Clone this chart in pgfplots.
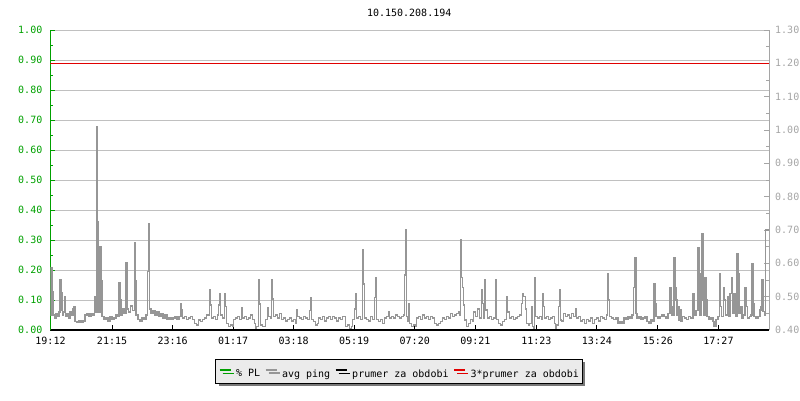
\documentclass[border=0pt]{standalone}
\usepackage{fontspec}
\setmainfont{DejaVu Sans Mono}
\usepackage{pgfplots}
\pgfplotsset{compat=1.18}
\usepackage{pgfplotstable}
\usetikzlibrary{shadows}

\definecolor{pgreen}{RGB}{0,160,0}
\definecolor{datagray}{RGB}{150,150,150}
\definecolor{gridgray}{RGB}{192,192,192}
\definecolor{axisgray}{RGB}{165,165,165}
\definecolor{pred}{RGB}{225,0,0}
\definecolor{legfill}{RGB}{235,235,235}
\definecolor{shadowgray}{RGB}{120,120,120}

\pgfplotstableread{
x y
0 0.445
1 0.587
3 0.515
5 0.445
8 0.436
11 0.449
14 0.440
17 0.454
19 0.550
21 0.460
22 0.511
24 0.445
26 0.454
28 0.499
30 0.440
33 0.449
36 0.436
39 0.454
42 0.445
45 0.463
47 0.469
49 0.425
53 0.422
57 0.427
61 0.422
65 0.427
69 0.445
73 0.449
77 0.440
81 0.449
85 0.445
88 0.499
90 0.454
93 1.009
94 0.725
96 0.454
99 0.650
101 0.547
103 0.440
107 0.431
111 0.436
115 0.427
119 0.440
123 0.431
127 0.436
131 0.445
134 0.440
137 0.541
139 0.490
141 0.445
144 0.463
147 0.449
151 0.602
153 0.463
156 0.454
160 0.472
164 0.458
168 0.662
169 0.547
171 0.445
175 0.431
179 0.427
183 0.436
187 0.431
191 0.445
194 0.575
196 0.720
198 0.463
201 0.449
205 0.458
209 0.445
213 0.454
217 0.440
221 0.449
225 0.436
229 0.445
233 0.431
237 0.436
241 0.431
245 0.436
249 0.440
253 0.431
257 0.440
261 0.480
262 0.460
264 0.436
268 0.440
272 0.431
276 0.436
280 0.440
284 0.431
288 0.420
292 0.415
296 0.430
300 0.425
304 0.431
308 0.436
312 0.445
318 0.520
319 0.475
321 0.436
325 0.440
329 0.431
333 0.445
336 0.475
338 0.510
340 0.445
344 0.436
348 0.510
349 0.470
351 0.420
355 0.410
359 0.415
363 0.410
366 0.431
370 0.436
374 0.440
378 0.431
382 0.468
384 0.436
388 0.440
392 0.431
396 0.436
400 0.445
403 0.431
407 0.420
409 0.405
412 0.410
416 0.550
418 0.478
420 0.415
424 0.410
429 0.431
433 0.468
435 0.440
439 0.436
442 0.550
443 0.493
445 0.440
449 0.445
453 0.436
457 0.449
459 0.450
461 0.431
465 0.436
469 0.427
473 0.431
477 0.436
481 0.427
485 0.431
489 0.420
492 0.460
494 0.440
498 0.436
502 0.431
506 0.440
510 0.436
514 0.431
517 0.458
520 0.498
522 0.431
526 0.425
529 0.415
533 0.420
536 0.436
540 0.431
544 0.440
548 0.427
552 0.436
556 0.440
560 0.431
564 0.440
568 0.436
572 0.427
576 0.436
580 0.431
584 0.440
589 0.410
593 0.415
597 0.405
601 0.410
604 0.431
608 0.463
610 0.510
612 0.436
616 0.440
620 0.431
624 0.640
626 0.538
628 0.436
632 0.431
636 0.427
640 0.440
644 0.431
648 0.498
649 0.558
651 0.431
655 0.425
659 0.431
663 0.420
667 0.436
671 0.440
676 0.454
678 0.436
682 0.440
686 0.436
690 0.445
694 0.440
698 0.436
702 0.440
706 0.445
708 0.565
710 0.700
712 0.440
714 0.425
716 0.480
718 0.420
721 0.410
725 0.415
729 0.410
732 0.436
736 0.440
740 0.431
744 0.445
748 0.436
752 0.440
756 0.431
760 0.440
764 0.436
768 0.420
772 0.415
776 0.420
780 0.425
783 0.436
787 0.431
791 0.440
795 0.436
799 0.449
803 0.440
807 0.445
811 0.449
815 0.454
818 0.445
820 0.670
822 0.558
824 0.528
826 0.475
828 0.430
832 0.410
836 0.420
840 0.431
844 0.427
846 0.454
850 0.440
854 0.463
858 0.436
862 0.520
864 0.480
866 0.436
868 0.550
870 0.460
874 0.436
878 0.440
882 0.431
886 0.436
890 0.550
892 0.431
896 0.420
900 0.415
904 0.425
908 0.431
912 0.500
914 0.454
918 0.436
922 0.440
926 0.431
930 0.436
934 0.440
938 0.445
941 0.480
944 0.510
946 0.500
949 0.463
951 0.420
955 0.415
958 0.420
961 0.470
963 0.430
964 0.410
966 0.405
967 0.482
968 0.558
970 0.440
974 0.436
978 0.440
982 0.431
984 0.510
986 0.470
988 0.436
992 0.440
996 0.431
1000 0.436
1004 0.440
1007 0.420
1009 0.405
1011 0.415
1015 0.470
1018 0.520
1019 0.430
1022 0.427
1026 0.449
1030 0.440
1034 0.445
1038 0.436
1042 0.449
1046 0.440
1050 0.463
1052 0.436
1056 0.440
1060 0.427
1064 0.431
1068 0.420
1072 0.431
1076 0.427
1080 0.436
1084 0.420
1088 0.431
1092 0.436
1096 0.427
1100 0.440
1104 0.436
1108 0.431
1112 0.445
1114 0.570
1116 0.490
1118 0.440
1122 0.436
1126 0.431
1130 0.436
1134 0.420
1138 0.425
1142 0.420
1146 0.436
1150 0.431
1154 0.440
1158 0.436
1162 0.445
1165 0.528
1168 0.618
1170 0.449
1172 0.436
1176 0.440
1180 0.431
1184 0.436
1188 0.440
1192 0.425
1196 0.420
1200 0.431
1204 0.427
1206 0.540
1208 0.480
1210 0.440
1214 0.436
1218 0.440
1222 0.445
1226 0.440
1230 0.436
1234 0.449
1238 0.528
1240 0.470
1242 0.445
1246 0.618
1248 0.528
1250 0.490
1252 0.445
1254 0.470
1256 0.430
1258 0.460
1260 0.425
1263 0.440
1267 0.436
1271 0.431
1275 0.440
1279 0.436
1284 0.510
1286 0.445
1290 0.458
1294 0.648
1296 0.540
1298 0.445
1300 0.570
1302 0.690
1304 0.490
1306 0.445
1308 0.558
1310 0.490
1312 0.440
1316 0.431
1320 0.436
1324 0.425
1326 0.410
1330 0.431
1334 0.440
1337 0.570
1339 0.470
1341 0.440
1345 0.528
1347 0.490
1349 0.445
1353 0.500
1355 0.440
1358 0.510
1361 0.558
1363 0.450
1366 0.510
1369 0.440
1372 0.630
1374 0.570
1376 0.450
1379 0.470
1382 0.436
1385 0.445
1388 0.528
1390 0.470
1393 0.436
1397 0.440
1400 0.445
1402 0.600
1404 0.480
1406 0.440
1410 0.436
1414 0.440
1418 0.460
1420 0.470
1422 0.550
1424 0.455
1427 0.445
1429 0.700
1436 0.700
}\pingdata

\begin{document}
\begin{tikzpicture}[x=1pt,y=1pt]
\useasboundingbox (-50.5,-70) rectangle (749.5,330);
\begin{axis}[
  at={(0,0)}, anchor=south west, scale only axis,
  width=718.5pt, height=300pt,
  xmin=0, xmax=1436, ymin=0, ymax=1,
  axis x line*=bottom, axis y line*=left,
  x axis line style={black, line width=2pt, -},
  y axis line style={pgreen, line width=1pt, -},
  xtick={0,123,244,365,486,607,728,849,971,1092,1214,1335},
  xticklabels={19:12,21:15,23:16,01:17,03:18,05:19,07:20,09:21,11:23,13:24,15:26,17:27},
  ytick={0,0.1,0.2,0.3,0.4,0.5,0.6,0.7,0.8,0.9,1.0},
  yticklabels={0.00,0.10,0.20,0.30,0.40,0.50,0.60,0.70,0.80,0.90,1.00},
  minor y tick num=1,
  tick align=inside,
  major tick length=5pt, minor tick length=3pt,
  x tick style={black, line width=1pt},
  y tick style={pgreen, line width=1pt},
  yticklabel style={pgreen, inner sep=0pt, xshift=-8pt},
  xticklabel style={black, inner sep=0pt, yshift=-6.5pt},
  ymajorgrids, grid style={gridgray, line width=1pt},
]
\addplot[pgreen, line width=1pt] coordinates {(0,0) (1436,0)};
\end{axis}
\begin{axis}[
  at={(0,0)}, anchor=south west, scale only axis,
  width=718.5pt, height=300pt,
  xmin=0, xmax=1436, ymin=0.4, ymax=1.3,
  axis x line=none, axis y line*=right,
  y axis line style={axisgray, line width=1pt, -},
  ytick={0.4,0.5,0.6,0.7,0.8,0.9,1.0,1.1,1.2,1.3},
  yticklabels={0.40,0.50,0.60,0.70,0.80,0.90,1.00,1.10,1.20,1.30},
  minor y tick num=1,
  tick align=inside,
  major tick length=5pt, minor tick length=3pt,
  y tick style={axisgray, line width=1pt},
  yticklabel style={axisgray, inner sep=0pt, xshift=6pt},
  legend image code/.code={\draw[#1, line width=2pt, fill=none] (0pt,-2pt) (15pt,10pt) (0pt,4pt) -- (11pt,4pt);},
  legend style={at={(axis description cs:0.485,-0.137)}, anchor=center,
    legend columns=-1, draw=black, line width=1pt, fill=legfill,
    inner xsep=3pt, inner ysep=4pt,
    nodes={inner sep=0.5pt, text=black},
    /tikz/every even column/.append style={column sep=4pt},
    drop shadow={shadow xshift=3pt, shadow yshift=-3pt, fill=shadowgray, opacity=1}},
]
\addlegendimage{pgreen}\addlegendentry{\% PL}
\addplot[datagray, line width=1.2pt, const plot] table {\pingdata};
\addlegendentry{avg ping}
\addplot[black, line width=1pt] coordinates {(0,0.4) (1436,0.4)};
\addlegendentry{prumer za obdobi}
\addplot[pred, line width=1pt] coordinates {(0,1.2) (1436,1.2)};
\addlegendentry{3*prumer za obdobi}
\end{axis}
\node[anchor=center, text=black] at (358.7,317) {10.150.208.194};
\end{tikzpicture}
\end{document}
